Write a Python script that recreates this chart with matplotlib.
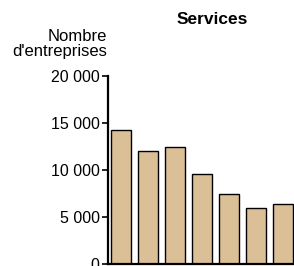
import numpy as np
import matplotlib.pyplot as plt

plt.rcParams['font.family'] = ['Liberation Sans', 'DejaVu Sans']

# valeurs
categories = ['1', '2', '3', '4', '5', '6', '7']
entreprises = [14300, 12000, 12450, 9600, 7450, 5950, 6400]
yticks = [0, 5000, 10000, 15000, 20000]
ytick_labels = ['0', '5 000', '10 000', '15 000', '20 000']

fig = plt.figure(figsize=(2.94, 2.66), dpi=100)
ax = fig.add_axes([108/294, 2/266, 1 - 108/294, 188/266])

x = np.arange(len(categories))
ax.bar(x, entreprises, width=0.74, color='#dbbf96', edgecolor='black', linewidth=1)

ax.set_xlim(-0.48, 6.41)
ax.set_ylim(0, 20000)
ax.set_yticks(yticks)
ax.set_yticklabels(ytick_labels, fontsize=11.5)
ax.set_xticks([])
ax.tick_params(axis='y', direction='out', length=4, width=1.2, pad=2)
for s in ['top', 'right']:
    ax.spines[s].set_visible(False)
ax.spines['left'].set_linewidth(1.6)
ax.spines['bottom'].set_linewidth(1.6)

fig.text(212/294, 1 - 20/266, 'Services', ha='center', va='center',
         fontsize=12.5, fontweight='bold')
fig.text(107/294, 1 - 44/266, "Nombre\nd'entreprises", ha='right', va='center',
         fontsize=12, linespacing=0.95)

fig.savefig('out.png', dpi=100)
